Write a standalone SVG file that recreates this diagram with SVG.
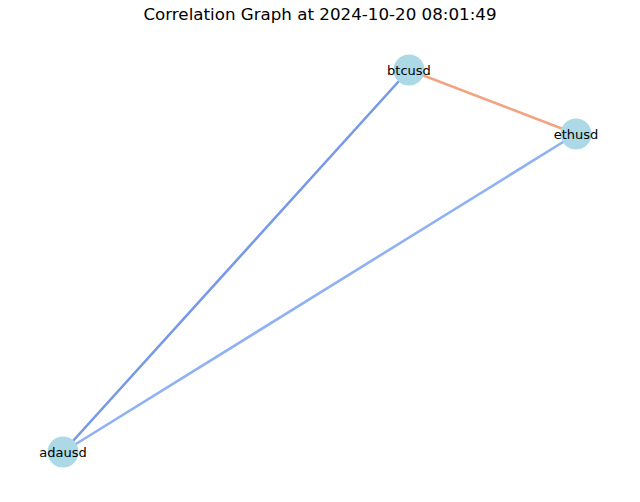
<svg xmlns="http://www.w3.org/2000/svg" width="640" height="502" viewBox="0 0 640 502">
<style>
.node circle{fill:#add8e6}
.node text{font-family:"DejaVu Sans",sans-serif;font-size:13px;fill:#000;text-anchor:middle;dominant-baseline:central}
.edge{stroke-width:2.6;fill:none;stroke-linecap:round}
.title{font-family:"DejaVu Sans",sans-serif;font-size:16.7px;text-anchor:middle}
</style>
<rect width="640" height="502" fill="#fff"/>
<text class="title" x="320" y="20">Correlation Graph at 2024-10-20 08:01:49</text>
<g id="edges">
<line class="edge" x1="409" y1="70" x2="576" y2="134" stroke="#f1a384"/>
<line class="edge" x1="409" y1="70" x2="63" y2="452" stroke="#7799e8"/>
<line class="edge" x1="576" y1="134" x2="63" y2="452" stroke="#90b2f3"/>
</g>
<g id="btcusd" class="node"><circle cx="409" cy="70" r="15.5"/><text x="409" y="70">btcusd</text></g>
<g id="ethusd" class="node"><circle cx="576" cy="134" r="15.5"/><text x="576" y="134">ethusd</text></g>
<g id="adausd" class="node"><circle cx="63" cy="452" r="15.5"/><text x="63" y="452">adausd</text></g>
</svg>
